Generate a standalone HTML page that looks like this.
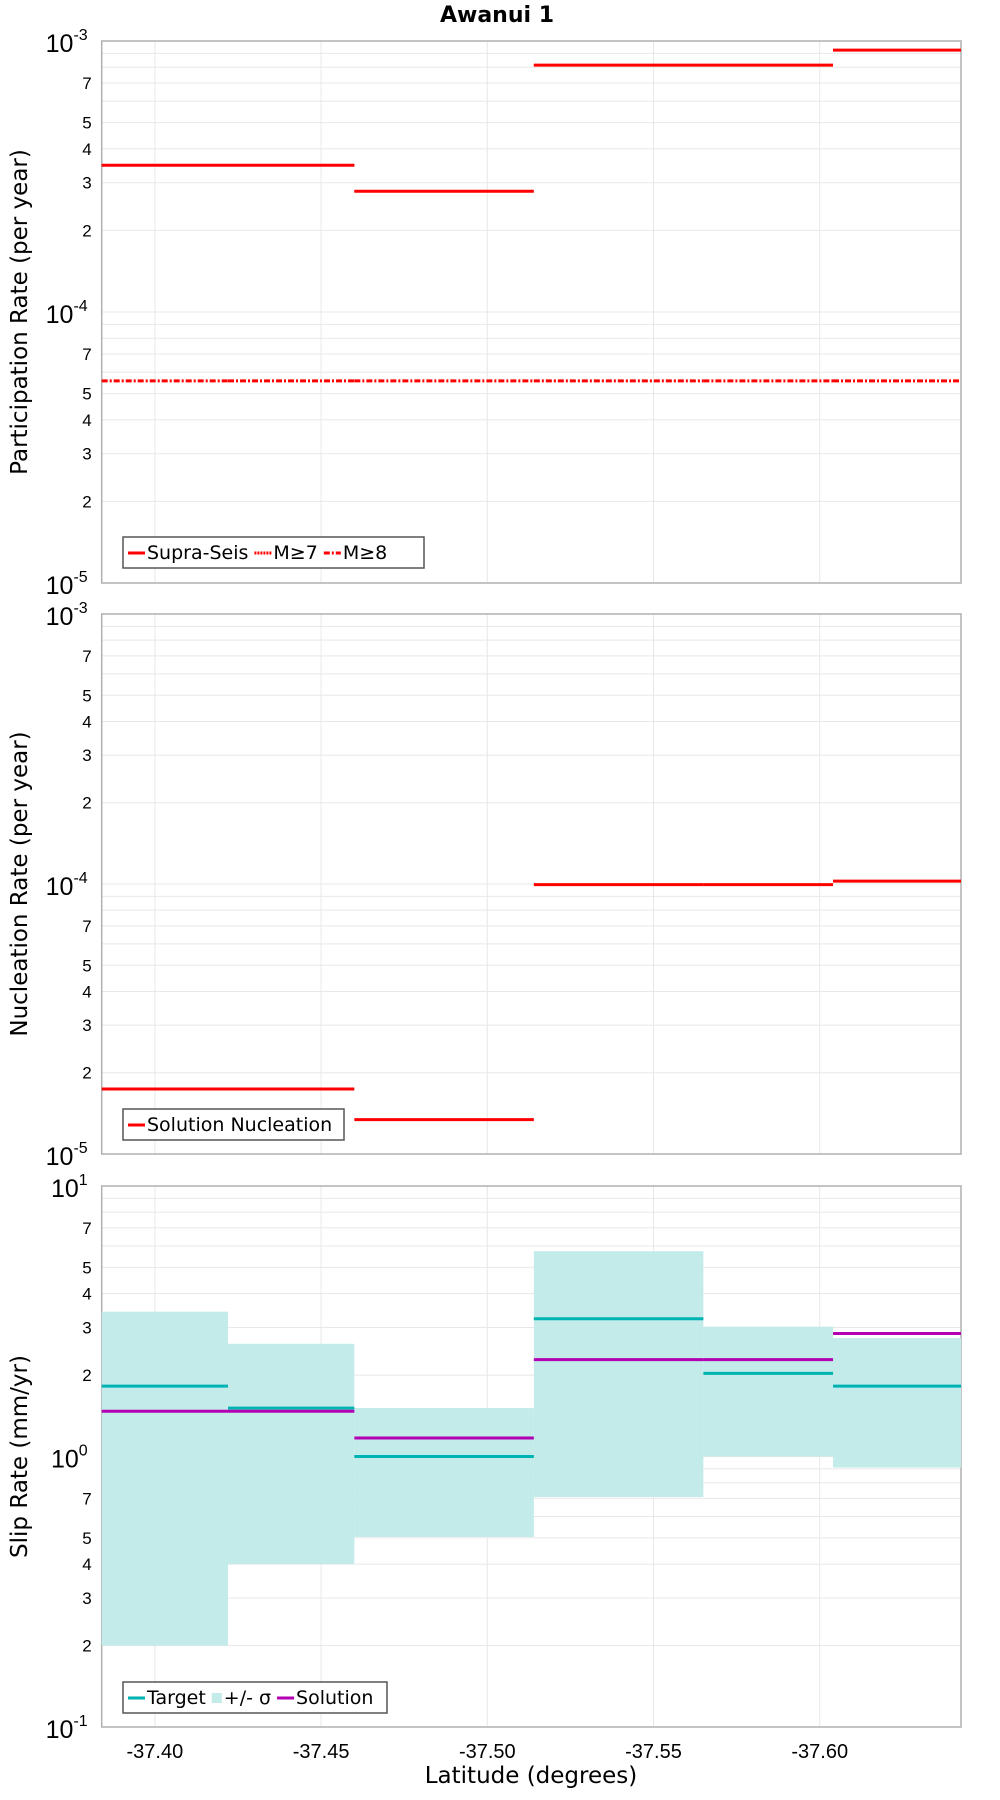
<!DOCTYPE html>
<html><head><meta charset="utf-8"><style>
body{margin:0;background:#fff}
svg{display:block;font-family:"Liberation Sans","DejaVu Sans",sans-serif}
.dv{font-family:"DejaVu Sans","Liberation Sans",sans-serif}
</style></head><body>
<svg id="c" width="1000" height="1800" viewBox="0 0 1000 1800">
<text class="dv" x="497" y="22" text-anchor="middle" font-size="22" font-weight="bold">Awanui 1</text>
<text class="dv" x="531" y="1783" text-anchor="middle" font-size="23">Latitude (degrees)</text>
</svg>
<script>
const bounds=[-37.384,-37.422,-37.460,-37.514,-37.565,-37.604,-37.6425];
const xTicks=[-37.40,-37.45,-37.50,-37.55,-37.60];
const xTickLabels=["-37.40","-37.45","-37.50","-37.55","-37.60"];
const supraSeis=[3.48e-4,3.48e-4,2.79e-4,8.15e-4,8.15e-4,9.25e-4];
const m7=[3.48e-4,3.48e-4,2.79e-4,8.15e-4,8.15e-4,9.25e-4];
const m8=[5.57e-5,5.57e-5,5.57e-5,5.57e-5,5.57e-5,5.57e-5];
const nucleation=[1.74e-5,1.74e-5,1.34e-5,9.95e-5,9.95e-5,1.025e-4];
const target=[1.82,1.51,1.0,3.23,2.03,1.82];
const solution=[1.47,1.47,1.17,2.28,2.28,2.85];
const bandHi=[3.43,2.61,1.51,5.74,3.02,2.74];
const bandLo=[0.2,0.40,0.504,0.708,1.0,0.91];
const NS='http://www.w3.org/2000/svg';
const svg=document.getElementById('c');
const L=101.7,R=961;
function X(lat){return L+(lat-bounds[0])/(bounds[6]-bounds[0])*(R-L);}
function mk(tag,attrs,parent){const e=document.createElementNS(NS,tag);for(const k in attrs)e.setAttribute(k,attrs[k]);(parent||svg).appendChild(e);return e;}
function panel(top,bot,expMin,expMax,title,name){
  const g=mk('g',{});
  
  
  const Y=v=>bot-(Math.log10(v)-expMin)/(expMax-expMin)*(bot-top);
  for(let e=expMin;e<expMax;e++){for(let m=1;m<10;m++){const v=m*Math.pow(10,e);const y=Y(v);
    const gl=mk('line',{x1:L,x2:R,y1:y,y2:y,stroke:'#e8e8e8','stroke-width':1},g);
    
    
    if([2,3,4,5,7].includes(m)){const t=mk('text',{x:L-10,y:y+6,'text-anchor':'end','font-size':17},g);t.textContent=m;
      
      }
  }}
  for(let e=expMin;e<=expMax;e++){const y=Y(Math.pow(10,e));
    const t=mk('text',{x:L-14,y:y+11,'text-anchor':'end','font-size':25},g);
    t.textContent='10';
    const s=mk('tspan',{'font-size':16,dy:-12},t);s.textContent=String(e);
    
    }
  xTicks.forEach(v=>{const x=X(v);const gl=mk('line',{x1:x,x2:x,y1:top,y2:bot,stroke:'#e8e8e8','stroke-width':1},g);
    
    });
  const fr=mk('rect',{x:L,y:top,width:R-L,height:bot-top,fill:'none',stroke:'#b0b0b0','stroke-width':1.5},g);
  
  
  const cy=(top+bot)/2;
  const tt=mk('text',{x:0,y:0,'text-anchor':'middle','font-size':23,'class':'dv',transform:`translate(27,${cy}) rotate(-90)`},g);
  tt.textContent=title;
  
  
  return {g,Y};
}
function steps(p,vals,color,dash,name,w){vals.forEach((v,i)=>{const y=p.Y(v);
  const l=mk('line',{x1:X(bounds[i]),x2:X(bounds[i+1]),y1:y,y2:y,stroke:color,'stroke-width':w||3},p.g);
  if(dash)l.setAttribute('stroke-dasharray',dash);
  
  });}
function legend(p,x,y,w,items){const g=mk('g',{},p.g);
  
  
  mk('rect',{x:x,y:y,width:w,height:31,fill:'#fff',stroke:'#555','stroke-width':1.5},g);
  let cx=x+5;items.forEach(it=>{
    if(it.box){mk('rect',{x:cx,y:y+11,width:10,height:10,fill:'#c2ebea'},g);cx+=12;}
    else{const l=mk('line',{x1:cx,x2:cx+17,y1:y+16,y2:y+16,stroke:it.c,'stroke-width':3},g);if(it.d)l.setAttribute('stroke-dasharray',it.d);cx+=19;}
    const t=mk('text',{x:cx,y:y+22,'font-size':19,'class':'dv'},g);t.textContent=it.t;
    
    
    cx+=t.getComputedTextLength()+6;});}
const p1=panel(41,583,-5,-3,'Participation Rate (per year)','participation-panel');
steps(p1,supraSeis,'#ff0000',null,'supra-seis-line');
steps(p1,m7,'#ff0000','2,1','m7-line',2);
steps(p1,m8,'#ff0000','6,2,2,2','m8-line',3);
legend(p1,123,537,301,[{c:'#f00',t:'Supra-Seis'},{c:'#f00',d:'2,1',t:'M≥7'},{c:'#f00',d:'6,2,2,2',t:'M≥8'}]);
const p2=panel(614,1154,-5,-3,'Nucleation Rate (per year)','nucleation-panel');
steps(p2,nucleation,'#ff0000',null,'nucleation-line');
legend(p2,123,1109,221,[{c:'#f00',t:'Solution Nucleation'}]);
const p3=panel(1186,1727,-1,1,'Slip Rate (mm/yr)','slip-rate-panel');
bandHi.forEach((h,i)=>{const y1=p3.Y(h),y2=p3.Y(bandLo[i]);
  const r=mk('rect',{x:X(bounds[i]),y:y1,width:X(bounds[i+1])-X(bounds[i]),height:y2-y1,fill:'#c2ebea'},p3.g);
  
  });
steps(p3,target,'#00b3b3',null,'target-line');
steps(p3,solution,'#b300b3',null,'solution-line');
legend(p3,123,1682,264,[{c:'#00b3b3',t:'Target'},{box:1,t:'+/- σ'},{c:'#b300b3',t:'Solution'}]);
xTicks.forEach((v,i)=>{const t=mk('text',{x:X(v),y:1758,'text-anchor':'middle','font-size':20});t.textContent=xTickLabels[i];
  
  });
</script>
</body></html>
